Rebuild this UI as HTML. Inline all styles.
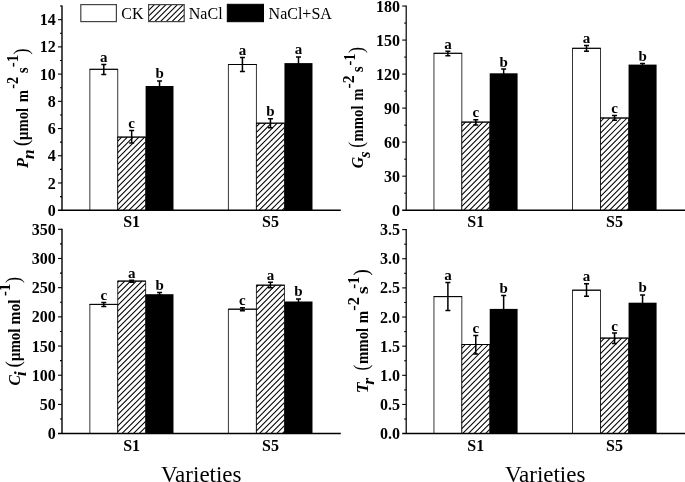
<!DOCTYPE html>
<html><head><meta charset="utf-8"><style>
html,body{margin:0;padding:0;background:#fff;}
body{width:685px;height:482px;position:relative;overflow:hidden;font-family:"Liberation Serif",serif;}
</style></head><body>
<svg width="685" height="482" viewBox="0 0 685 482" style="position:absolute;left:0;top:0;will-change:transform">
<defs>
</defs>
<rect x="89.85" y="69.30" width="27.88" height="140.90" fill="#fff"/>
<path d="M89.85 210.20V69.30H117.73V210.20" stroke="#000" stroke-width="0.8" fill="none"/>
<path d="M89.45 69.30H118.13" stroke="#000" stroke-width="1" fill="none"/>
<path d="M103.79 64.60V74.40M101.29 64.60H106.29M101.29 74.40H106.29" stroke="#000" stroke-width="1.5" fill="none"/>
<text x="103.79" y="62.00" font-family="Liberation Serif" font-weight="bold" font-size="15" text-anchor="middle">a</text>
<rect x="117.73" y="137.10" width="27.88" height="73.10" fill="#fff"/>
<path d="M117.73 141.02L121.65 137.10M117.73 146.77L127.40 137.10M117.73 152.52L133.15 137.10M117.73 158.27L138.90 137.10M117.73 164.02L144.65 137.10M117.73 169.77L145.61 141.89M117.73 175.52L145.61 147.64M117.73 181.27L145.61 153.39M117.73 187.02L145.61 159.14M117.73 192.77L145.61 164.89M117.73 198.52L145.61 170.64M117.73 204.27L145.61 176.39M117.73 210.02L145.61 182.14M123.30 210.20L145.61 187.89M129.05 210.20L145.61 193.64M134.80 210.20L145.61 199.39M140.55 210.20L145.61 205.14" stroke="#000" stroke-width="1.05" fill="none"/>
<path d="M117.73 210.20V137.10H145.61V210.20" stroke="#000" stroke-width="0.8" fill="none"/>
<path d="M117.33 137.10H146.01" stroke="#000" stroke-width="1" fill="none"/>
<path d="M131.67 130.60V142.90M129.17 130.60H134.17M129.17 142.90H134.17" stroke="#000" stroke-width="1.5" fill="none"/>
<text x="131.67" y="128.00" font-family="Liberation Serif" font-weight="bold" font-size="15" text-anchor="middle">c</text>
<rect x="145.61" y="86.00" width="27.88" height="124.20" fill="#000"/>
<path d="M159.55 80.90V91.00M157.05 80.90H162.05M157.05 91.00H162.05" stroke="#000" stroke-width="1.5" fill="none"/>
<text x="159.55" y="78.30" font-family="Liberation Serif" font-weight="bold" font-size="15" text-anchor="middle">b</text>
<text x="131.67" y="227.20" font-family="Liberation Serif" font-weight="bold" font-size="16" text-anchor="middle">S1</text>
<rect x="228.40" y="64.50" width="28.03" height="145.70" fill="#fff"/>
<path d="M228.40 210.20V64.50H256.43V210.20" stroke="#000" stroke-width="0.8" fill="none"/>
<path d="M228.00 64.50H256.83" stroke="#000" stroke-width="1" fill="none"/>
<path d="M242.42 57.50V71.50M239.92 57.50H244.92M239.92 71.50H244.92" stroke="#000" stroke-width="1.5" fill="none"/>
<text x="242.42" y="54.90" font-family="Liberation Serif" font-weight="bold" font-size="15" text-anchor="middle">a</text>
<rect x="256.43" y="123.20" width="28.03" height="87.00" fill="#fff"/>
<path d="M256.43 126.74L259.97 123.20M256.43 132.49L265.72 123.20M256.43 138.24L271.47 123.20M256.43 143.99L277.22 123.20M256.43 149.74L282.97 123.20M256.43 155.49L284.46 127.46M256.43 161.24L284.46 133.21M256.43 166.99L284.46 138.96M256.43 172.74L284.46 144.71M256.43 178.49L284.46 150.46M256.43 184.24L284.46 156.21M256.43 189.99L284.46 161.96M256.43 195.74L284.46 167.71M256.43 201.49L284.46 173.46M256.43 207.24L284.46 179.21M259.22 210.20L284.46 184.96M264.97 210.20L284.46 190.71M270.72 210.20L284.46 196.46M276.47 210.20L284.46 202.21M282.22 210.20L284.46 207.96" stroke="#000" stroke-width="1.05" fill="none"/>
<path d="M256.43 210.20V123.20H284.46V210.20" stroke="#000" stroke-width="0.8" fill="none"/>
<path d="M256.03 123.20H284.86" stroke="#000" stroke-width="1" fill="none"/>
<path d="M270.45 118.70V127.70M267.95 118.70H272.95M267.95 127.70H272.95" stroke="#000" stroke-width="1.5" fill="none"/>
<text x="270.45" y="116.10" font-family="Liberation Serif" font-weight="bold" font-size="15" text-anchor="middle">b</text>
<rect x="284.46" y="63.10" width="28.03" height="147.10" fill="#000"/>
<path d="M298.48 56.90V69.40M295.98 56.90H300.98M295.98 69.40H300.98" stroke="#000" stroke-width="1.5" fill="none"/>
<text x="298.48" y="54.30" font-family="Liberation Serif" font-weight="bold" font-size="15" text-anchor="middle">a</text>
<text x="270.44" y="227.20" font-family="Liberation Serif" font-weight="bold" font-size="16" text-anchor="middle">S5</text>
<path d="M62.00 5.55V210.20" stroke="#000" stroke-width="1.4" fill="none"/>
<path d="M58.00 210.20H340.80" stroke="#000" stroke-width="1.5" fill="none"/>
<text x="55.70" y="215.80" font-family="Liberation Serif" font-weight="bold" font-size="16" text-anchor="end">0</text>
<path d="M60.00 196.59H62.00" stroke="#000" stroke-width="1.1" fill="none"/>
<path d="M58.00 182.98H62.00" stroke="#000" stroke-width="1.1" fill="none"/>
<text x="55.70" y="188.58" font-family="Liberation Serif" font-weight="bold" font-size="16" text-anchor="end">2</text>
<path d="M60.00 169.37H62.00" stroke="#000" stroke-width="1.1" fill="none"/>
<path d="M58.00 155.76H62.00" stroke="#000" stroke-width="1.1" fill="none"/>
<text x="55.70" y="161.36" font-family="Liberation Serif" font-weight="bold" font-size="16" text-anchor="end">4</text>
<path d="M60.00 142.15H62.00" stroke="#000" stroke-width="1.1" fill="none"/>
<path d="M58.00 128.54H62.00" stroke="#000" stroke-width="1.1" fill="none"/>
<text x="55.70" y="134.14" font-family="Liberation Serif" font-weight="bold" font-size="16" text-anchor="end">6</text>
<path d="M60.00 114.93H62.00" stroke="#000" stroke-width="1.1" fill="none"/>
<path d="M58.00 101.32H62.00" stroke="#000" stroke-width="1.1" fill="none"/>
<text x="55.70" y="106.92" font-family="Liberation Serif" font-weight="bold" font-size="16" text-anchor="end">8</text>
<path d="M60.00 87.71H62.00" stroke="#000" stroke-width="1.1" fill="none"/>
<path d="M58.00 74.10H62.00" stroke="#000" stroke-width="1.1" fill="none"/>
<text x="55.70" y="79.70" font-family="Liberation Serif" font-weight="bold" font-size="16" text-anchor="end">10</text>
<path d="M60.00 60.49H62.00" stroke="#000" stroke-width="1.1" fill="none"/>
<path d="M58.00 46.88H62.00" stroke="#000" stroke-width="1.1" fill="none"/>
<text x="55.70" y="52.48" font-family="Liberation Serif" font-weight="bold" font-size="16" text-anchor="end">12</text>
<path d="M60.00 33.27H62.00" stroke="#000" stroke-width="1.1" fill="none"/>
<path d="M58.00 19.66H62.00" stroke="#000" stroke-width="1.1" fill="none"/>
<text x="55.70" y="25.26" font-family="Liberation Serif" font-weight="bold" font-size="16" text-anchor="end">14</text>
<path d="M60.00 6.05H62.00" stroke="#000" stroke-width="1.1" fill="none"/>
<rect x="433.95" y="53.30" width="27.88" height="156.90" fill="#fff"/>
<path d="M433.95 210.20V53.30H461.83V210.20" stroke="#000" stroke-width="0.8" fill="none"/>
<path d="M433.55 53.30H462.23" stroke="#000" stroke-width="1" fill="none"/>
<path d="M447.89 51.35V55.70M445.39 51.35H450.39M445.39 55.70H450.39" stroke="#000" stroke-width="1.5" fill="none"/>
<text x="447.89" y="48.75" font-family="Liberation Serif" font-weight="bold" font-size="15" text-anchor="middle">a</text>
<rect x="461.83" y="122.10" width="27.88" height="88.10" fill="#fff"/>
<path d="M461.83 125.87L465.60 122.10M461.83 131.62L471.35 122.10M461.83 137.37L477.10 122.10M461.83 143.12L482.85 122.10M461.83 148.87L488.60 122.10M461.83 154.62L489.71 126.74M461.83 160.37L489.71 132.49M461.83 166.12L489.71 138.24M461.83 171.87L489.71 143.99M461.83 177.62L489.71 149.74M461.83 183.37L489.71 155.49M461.83 189.12L489.71 161.24M461.83 194.87L489.71 166.99M461.83 200.62L489.71 172.74M461.83 206.37L489.71 178.49M463.75 210.20L489.71 184.24M469.50 210.20L489.71 189.99M475.25 210.20L489.71 195.74M481.00 210.20L489.71 201.49M486.75 210.20L489.71 207.24" stroke="#000" stroke-width="1.05" fill="none"/>
<path d="M461.83 210.20V122.10H489.71V210.20" stroke="#000" stroke-width="0.8" fill="none"/>
<path d="M461.43 122.10H490.11" stroke="#000" stroke-width="1" fill="none"/>
<path d="M475.77 119.80V124.90M473.27 119.80H478.27M473.27 124.90H478.27" stroke="#000" stroke-width="1.5" fill="none"/>
<text x="475.77" y="117.20" font-family="Liberation Serif" font-weight="bold" font-size="15" text-anchor="middle">c</text>
<rect x="489.71" y="73.30" width="27.88" height="136.90" fill="#000"/>
<path d="M503.65 69.10V77.60M501.15 69.10H506.15M501.15 77.60H506.15" stroke="#000" stroke-width="1.5" fill="none"/>
<text x="503.65" y="66.50" font-family="Liberation Serif" font-weight="bold" font-size="15" text-anchor="middle">b</text>
<text x="475.77" y="227.20" font-family="Liberation Serif" font-weight="bold" font-size="16" text-anchor="middle">S1</text>
<rect x="572.50" y="48.30" width="28.03" height="161.90" fill="#fff"/>
<path d="M572.50 210.20V48.30H600.53V210.20" stroke="#000" stroke-width="0.8" fill="none"/>
<path d="M572.10 48.30H600.93" stroke="#000" stroke-width="1" fill="none"/>
<path d="M586.51 45.50V51.30M584.01 45.50H589.01M584.01 51.30H589.01" stroke="#000" stroke-width="1.5" fill="none"/>
<text x="586.51" y="42.90" font-family="Liberation Serif" font-weight="bold" font-size="15" text-anchor="middle">a</text>
<rect x="600.53" y="118.00" width="28.03" height="92.20" fill="#fff"/>
<path d="M600.53 121.52L604.05 118.00M600.53 127.27L609.80 118.00M600.53 133.02L615.55 118.00M600.53 138.77L621.30 118.00M600.53 144.52L627.05 118.00M600.53 150.27L628.56 122.24M600.53 156.02L628.56 127.99M600.53 161.77L628.56 133.74M600.53 167.52L628.56 139.49M600.53 173.27L628.56 145.24M600.53 179.02L628.56 150.99M600.53 184.77L628.56 156.74M600.53 190.52L628.56 162.49M600.53 196.27L628.56 168.24M600.53 202.02L628.56 173.99M600.53 207.77L628.56 179.74M603.85 210.20L628.56 185.49M609.60 210.20L628.56 191.24M615.35 210.20L628.56 196.99M621.10 210.20L628.56 202.74M626.85 210.20L628.56 208.49" stroke="#000" stroke-width="1.05" fill="none"/>
<path d="M600.53 210.20V118.00H628.56V210.20" stroke="#000" stroke-width="0.8" fill="none"/>
<path d="M600.13 118.00H628.96" stroke="#000" stroke-width="1" fill="none"/>
<path d="M614.54 115.50V120.20M612.04 115.50H617.04M612.04 120.20H617.04" stroke="#000" stroke-width="1.5" fill="none"/>
<text x="614.54" y="112.90" font-family="Liberation Serif" font-weight="bold" font-size="15" text-anchor="middle">c</text>
<rect x="628.56" y="64.60" width="28.03" height="145.60" fill="#000"/>
<path d="M642.57 63.60V66.60M640.07 63.60H645.07M640.07 66.60H645.07" stroke="#000" stroke-width="1.5" fill="none"/>
<text x="642.57" y="61.00" font-family="Liberation Serif" font-weight="bold" font-size="15" text-anchor="middle">b</text>
<text x="614.54" y="227.20" font-family="Liberation Serif" font-weight="bold" font-size="16" text-anchor="middle">S5</text>
<path d="M406.20 5.55V210.20" stroke="#000" stroke-width="1.2" fill="none"/>
<path d="M402.20 210.20H685.50" stroke="#000" stroke-width="1.5" fill="none"/>
<text x="399.90" y="215.80" font-family="Liberation Serif" font-weight="bold" font-size="16" text-anchor="end">0</text>
<path d="M404.20 193.19H406.20" stroke="#000" stroke-width="1.1" fill="none"/>
<path d="M402.20 176.17H406.20" stroke="#000" stroke-width="1.1" fill="none"/>
<text x="399.90" y="181.77" font-family="Liberation Serif" font-weight="bold" font-size="16" text-anchor="end">30</text>
<path d="M404.20 159.16H406.20" stroke="#000" stroke-width="1.1" fill="none"/>
<path d="M402.20 142.15H406.20" stroke="#000" stroke-width="1.1" fill="none"/>
<text x="399.90" y="147.75" font-family="Liberation Serif" font-weight="bold" font-size="16" text-anchor="end">60</text>
<path d="M404.20 125.14H406.20" stroke="#000" stroke-width="1.1" fill="none"/>
<path d="M402.20 108.12H406.20" stroke="#000" stroke-width="1.1" fill="none"/>
<text x="399.90" y="113.72" font-family="Liberation Serif" font-weight="bold" font-size="16" text-anchor="end">90</text>
<path d="M404.20 91.11H406.20" stroke="#000" stroke-width="1.1" fill="none"/>
<path d="M402.20 74.10H406.20" stroke="#000" stroke-width="1.1" fill="none"/>
<text x="399.90" y="79.70" font-family="Liberation Serif" font-weight="bold" font-size="16" text-anchor="end">120</text>
<path d="M404.20 57.09H406.20" stroke="#000" stroke-width="1.1" fill="none"/>
<path d="M402.20 40.08H406.20" stroke="#000" stroke-width="1.1" fill="none"/>
<text x="399.90" y="45.68" font-family="Liberation Serif" font-weight="bold" font-size="16" text-anchor="end">150</text>
<path d="M404.20 23.06H406.20" stroke="#000" stroke-width="1.1" fill="none"/>
<path d="M402.20 6.05H406.20" stroke="#000" stroke-width="1.1" fill="none"/>
<text x="399.90" y="11.65" font-family="Liberation Serif" font-weight="bold" font-size="16" text-anchor="end">180</text>
<rect x="89.85" y="304.40" width="27.88" height="129.20" fill="#fff"/>
<path d="M89.85 433.60V304.40H117.73V433.60" stroke="#000" stroke-width="0.8" fill="none"/>
<path d="M89.45 304.40H118.13" stroke="#000" stroke-width="1" fill="none"/>
<path d="M103.79 302.40V306.60M101.29 302.40H106.29M101.29 306.60H106.29" stroke="#000" stroke-width="1.5" fill="none"/>
<text x="103.79" y="299.80" font-family="Liberation Serif" font-weight="bold" font-size="15" text-anchor="middle">c</text>
<rect x="117.73" y="281.10" width="27.88" height="152.50" fill="#fff"/>
<path d="M117.73 282.44L119.07 281.10M117.73 288.19L124.82 281.10M117.73 293.94L130.57 281.10M117.73 299.69L136.32 281.10M117.73 305.44L142.07 281.10M117.73 311.19L145.61 283.31M117.73 316.94L145.61 289.06M117.73 322.69L145.61 294.81M117.73 328.44L145.61 300.56M117.73 334.19L145.61 306.31M117.73 339.94L145.61 312.06M117.73 345.69L145.61 317.81M117.73 351.44L145.61 323.56M117.73 357.19L145.61 329.31M117.73 362.94L145.61 335.06M117.73 368.69L145.61 340.81M117.73 374.44L145.61 346.56M117.73 380.19L145.61 352.31M117.73 385.94L145.61 358.06M117.73 391.69L145.61 363.81M117.73 397.44L145.61 369.56M117.73 403.19L145.61 375.31M117.73 408.94L145.61 381.06M117.73 414.69L145.61 386.81M117.73 420.44L145.61 392.56M117.73 426.19L145.61 398.31M117.73 431.94L145.61 404.06M121.82 433.60L145.61 409.81M127.57 433.60L145.61 415.56M133.32 433.60L145.61 421.31M139.07 433.60L145.61 427.06M144.82 433.60L145.61 432.81" stroke="#000" stroke-width="1.05" fill="none"/>
<path d="M117.73 433.60V281.10H145.61V433.60" stroke="#000" stroke-width="0.8" fill="none"/>
<path d="M117.33 281.10H146.01" stroke="#000" stroke-width="1" fill="none"/>
<path d="M131.67 280.20V282.20M129.17 280.20H134.17M129.17 282.20H134.17" stroke="#000" stroke-width="1.5" fill="none"/>
<text x="131.67" y="277.60" font-family="Liberation Serif" font-weight="bold" font-size="15" text-anchor="middle">a</text>
<rect x="145.61" y="294.20" width="27.88" height="139.40" fill="#000"/>
<path d="M159.55 292.50V295.50M157.05 292.50H162.05M157.05 295.50H162.05" stroke="#000" stroke-width="1.5" fill="none"/>
<text x="159.55" y="289.90" font-family="Liberation Serif" font-weight="bold" font-size="15" text-anchor="middle">b</text>
<text x="131.67" y="450.60" font-family="Liberation Serif" font-weight="bold" font-size="16" text-anchor="middle">S1</text>
<rect x="228.40" y="309.20" width="28.03" height="124.40" fill="#fff"/>
<path d="M228.40 433.60V309.20H256.43V433.60" stroke="#000" stroke-width="0.8" fill="none"/>
<path d="M228.00 309.20H256.83" stroke="#000" stroke-width="1" fill="none"/>
<path d="M242.42 307.70V310.80M239.92 307.70H244.92M239.92 310.80H244.92" stroke="#000" stroke-width="1.5" fill="none"/>
<text x="242.42" y="305.10" font-family="Liberation Serif" font-weight="bold" font-size="15" text-anchor="middle">c</text>
<rect x="256.43" y="285.20" width="28.03" height="148.40" fill="#fff"/>
<path d="M256.43 287.02L258.25 285.20M256.43 292.77L264.00 285.20M256.43 298.52L269.75 285.20M256.43 304.27L275.50 285.20M256.43 310.02L281.25 285.20M256.43 315.77L284.46 287.74M256.43 321.52L284.46 293.49M256.43 327.27L284.46 299.24M256.43 333.02L284.46 304.99M256.43 338.77L284.46 310.74M256.43 344.52L284.46 316.49M256.43 350.27L284.46 322.24M256.43 356.02L284.46 327.99M256.43 361.77L284.46 333.74M256.43 367.52L284.46 339.49M256.43 373.27L284.46 345.24M256.43 379.02L284.46 350.99M256.43 384.77L284.46 356.74M256.43 390.52L284.46 362.49M256.43 396.27L284.46 368.24M256.43 402.02L284.46 373.99M256.43 407.77L284.46 379.74M256.43 413.52L284.46 385.49M256.43 419.27L284.46 391.24M256.43 425.02L284.46 396.99M256.43 430.77L284.46 402.74M259.35 433.60L284.46 408.49M265.10 433.60L284.46 414.24M270.85 433.60L284.46 419.99M276.60 433.60L284.46 425.74M282.35 433.60L284.46 431.49" stroke="#000" stroke-width="1.05" fill="none"/>
<path d="M256.43 433.60V285.20H284.46V433.60" stroke="#000" stroke-width="0.8" fill="none"/>
<path d="M256.03 285.20H284.86" stroke="#000" stroke-width="1" fill="none"/>
<path d="M270.45 282.30V287.70M267.95 282.30H272.95M267.95 287.70H272.95" stroke="#000" stroke-width="1.5" fill="none"/>
<text x="270.45" y="279.70" font-family="Liberation Serif" font-weight="bold" font-size="15" text-anchor="middle">a</text>
<rect x="284.46" y="301.50" width="28.03" height="132.10" fill="#000"/>
<path d="M298.48 299.00V304.00M295.98 299.00H300.98M295.98 304.00H300.98" stroke="#000" stroke-width="1.5" fill="none"/>
<text x="298.48" y="296.40" font-family="Liberation Serif" font-weight="bold" font-size="15" text-anchor="middle">b</text>
<text x="270.44" y="450.60" font-family="Liberation Serif" font-weight="bold" font-size="16" text-anchor="middle">S5</text>
<path d="M62.00 228.80V433.60" stroke="#000" stroke-width="1.4" fill="none"/>
<path d="M58.00 433.60H340.80" stroke="#000" stroke-width="1.5" fill="none"/>
<text x="55.70" y="439.20" font-family="Liberation Serif" font-weight="bold" font-size="16" text-anchor="end">0</text>
<path d="M60.00 419.01H62.00" stroke="#000" stroke-width="1.1" fill="none"/>
<path d="M58.00 404.41H62.00" stroke="#000" stroke-width="1.1" fill="none"/>
<text x="55.70" y="410.01" font-family="Liberation Serif" font-weight="bold" font-size="16" text-anchor="end">50</text>
<path d="M60.00 389.82H62.00" stroke="#000" stroke-width="1.1" fill="none"/>
<path d="M58.00 375.23H62.00" stroke="#000" stroke-width="1.1" fill="none"/>
<text x="55.70" y="380.83" font-family="Liberation Serif" font-weight="bold" font-size="16" text-anchor="end">100</text>
<path d="M60.00 360.64H62.00" stroke="#000" stroke-width="1.1" fill="none"/>
<path d="M58.00 346.04H62.00" stroke="#000" stroke-width="1.1" fill="none"/>
<text x="55.70" y="351.64" font-family="Liberation Serif" font-weight="bold" font-size="16" text-anchor="end">150</text>
<path d="M60.00 331.45H62.00" stroke="#000" stroke-width="1.1" fill="none"/>
<path d="M58.00 316.86H62.00" stroke="#000" stroke-width="1.1" fill="none"/>
<text x="55.70" y="322.46" font-family="Liberation Serif" font-weight="bold" font-size="16" text-anchor="end">200</text>
<path d="M60.00 302.26H62.00" stroke="#000" stroke-width="1.1" fill="none"/>
<path d="M58.00 287.67H62.00" stroke="#000" stroke-width="1.1" fill="none"/>
<text x="55.70" y="293.27" font-family="Liberation Serif" font-weight="bold" font-size="16" text-anchor="end">250</text>
<path d="M60.00 273.08H62.00" stroke="#000" stroke-width="1.1" fill="none"/>
<path d="M58.00 258.49H62.00" stroke="#000" stroke-width="1.1" fill="none"/>
<text x="55.70" y="264.09" font-family="Liberation Serif" font-weight="bold" font-size="16" text-anchor="end">300</text>
<path d="M60.00 243.89H62.00" stroke="#000" stroke-width="1.1" fill="none"/>
<path d="M58.00 229.30H62.00" stroke="#000" stroke-width="1.1" fill="none"/>
<text x="55.70" y="234.90" font-family="Liberation Serif" font-weight="bold" font-size="16" text-anchor="end">350</text>
<rect x="433.95" y="296.60" width="27.88" height="137.00" fill="#fff"/>
<path d="M433.95 433.60V296.60H461.83V433.60" stroke="#000" stroke-width="0.8" fill="none"/>
<path d="M433.55 296.60H462.23" stroke="#000" stroke-width="1" fill="none"/>
<path d="M447.89 282.60V310.60M445.39 282.60H450.39M445.39 310.60H450.39" stroke="#000" stroke-width="1.5" fill="none"/>
<text x="447.89" y="280.00" font-family="Liberation Serif" font-weight="bold" font-size="15" text-anchor="middle">a</text>
<rect x="461.83" y="344.50" width="27.88" height="89.10" fill="#fff"/>
<path d="M461.83 348.01L465.34 344.50M461.83 353.76L471.09 344.50M461.83 359.51L476.84 344.50M461.83 365.26L482.59 344.50M461.83 371.01L488.34 344.50M461.83 376.76L489.71 348.88M461.83 382.51L489.71 354.63M461.83 388.26L489.71 360.38M461.83 394.01L489.71 366.13M461.83 399.76L489.71 371.88M461.83 405.51L489.71 377.63M461.83 411.26L489.71 383.38M461.83 417.01L489.71 389.13M461.83 422.76L489.71 394.88M461.83 428.51L489.71 400.63M462.49 433.60L489.71 406.38M468.24 433.60L489.71 412.13M473.99 433.60L489.71 417.88M479.74 433.60L489.71 423.63M485.49 433.60L489.71 429.38" stroke="#000" stroke-width="1.05" fill="none"/>
<path d="M461.83 433.60V344.50H489.71V433.60" stroke="#000" stroke-width="0.8" fill="none"/>
<path d="M461.43 344.50H490.11" stroke="#000" stroke-width="1" fill="none"/>
<path d="M475.77 335.60V353.90M473.27 335.60H478.27M473.27 353.90H478.27" stroke="#000" stroke-width="1.5" fill="none"/>
<text x="475.77" y="333.00" font-family="Liberation Serif" font-weight="bold" font-size="15" text-anchor="middle">c</text>
<rect x="489.71" y="308.90" width="27.88" height="124.70" fill="#000"/>
<path d="M503.65 295.50V322.70M501.15 295.50H506.15M501.15 322.70H506.15" stroke="#000" stroke-width="1.5" fill="none"/>
<text x="503.65" y="292.90" font-family="Liberation Serif" font-weight="bold" font-size="15" text-anchor="middle">b</text>
<text x="475.77" y="450.60" font-family="Liberation Serif" font-weight="bold" font-size="16" text-anchor="middle">S1</text>
<rect x="572.50" y="290.20" width="28.03" height="143.40" fill="#fff"/>
<path d="M572.50 433.60V290.20H600.53V433.60" stroke="#000" stroke-width="0.8" fill="none"/>
<path d="M572.10 290.20H600.93" stroke="#000" stroke-width="1" fill="none"/>
<path d="M586.51 283.80V296.20M584.01 283.80H589.01M584.01 296.20H589.01" stroke="#000" stroke-width="1.5" fill="none"/>
<text x="586.51" y="281.20" font-family="Liberation Serif" font-weight="bold" font-size="15" text-anchor="middle">a</text>
<rect x="600.53" y="338.10" width="28.03" height="95.50" fill="#fff"/>
<path d="M600.53 342.01L604.44 338.10M600.53 347.76L610.19 338.10M600.53 353.51L615.94 338.10M600.53 359.26L621.69 338.10M600.53 365.01L627.44 338.10M600.53 370.76L628.56 342.73M600.53 376.51L628.56 348.48M600.53 382.26L628.56 354.23M600.53 388.01L628.56 359.98M600.53 393.76L628.56 365.73M600.53 399.51L628.56 371.48M600.53 405.26L628.56 377.23M600.53 411.01L628.56 382.98M600.53 416.76L628.56 388.73M600.53 422.51L628.56 394.48M600.53 428.26L628.56 400.23M600.94 433.60L628.56 405.98M606.69 433.60L628.56 411.73M612.44 433.60L628.56 417.48M618.19 433.60L628.56 423.23M623.94 433.60L628.56 428.98" stroke="#000" stroke-width="1.05" fill="none"/>
<path d="M600.53 433.60V338.10H628.56V433.60" stroke="#000" stroke-width="0.8" fill="none"/>
<path d="M600.13 338.10H628.96" stroke="#000" stroke-width="1" fill="none"/>
<path d="M614.54 333.10V343.40M612.04 333.10H617.04M612.04 343.40H617.04" stroke="#000" stroke-width="1.5" fill="none"/>
<text x="614.54" y="330.50" font-family="Liberation Serif" font-weight="bold" font-size="15" text-anchor="middle">c</text>
<rect x="628.56" y="302.70" width="28.03" height="130.90" fill="#000"/>
<path d="M642.57 295.00V309.70M640.07 295.00H645.07M640.07 309.70H645.07" stroke="#000" stroke-width="1.5" fill="none"/>
<text x="642.57" y="292.40" font-family="Liberation Serif" font-weight="bold" font-size="15" text-anchor="middle">b</text>
<text x="614.54" y="450.60" font-family="Liberation Serif" font-weight="bold" font-size="16" text-anchor="middle">S5</text>
<path d="M406.20 229.10V433.60" stroke="#000" stroke-width="1.25" fill="none"/>
<path d="M402.20 433.60H685.50" stroke="#000" stroke-width="1.5" fill="none"/>
<text x="399.90" y="439.20" font-family="Liberation Serif" font-weight="bold" font-size="16" text-anchor="end">0.0</text>
<path d="M404.20 419.03H406.20" stroke="#000" stroke-width="1.1" fill="none"/>
<path d="M402.20 404.46H406.20" stroke="#000" stroke-width="1.1" fill="none"/>
<text x="399.90" y="410.06" font-family="Liberation Serif" font-weight="bold" font-size="16" text-anchor="end">0.5</text>
<path d="M404.20 389.89H406.20" stroke="#000" stroke-width="1.1" fill="none"/>
<path d="M402.20 375.31H406.20" stroke="#000" stroke-width="1.1" fill="none"/>
<text x="399.90" y="380.91" font-family="Liberation Serif" font-weight="bold" font-size="16" text-anchor="end">1.0</text>
<path d="M404.20 360.74H406.20" stroke="#000" stroke-width="1.1" fill="none"/>
<path d="M402.20 346.17H406.20" stroke="#000" stroke-width="1.1" fill="none"/>
<text x="399.90" y="351.77" font-family="Liberation Serif" font-weight="bold" font-size="16" text-anchor="end">1.5</text>
<path d="M404.20 331.60H406.20" stroke="#000" stroke-width="1.1" fill="none"/>
<path d="M402.20 317.03H406.20" stroke="#000" stroke-width="1.1" fill="none"/>
<text x="399.90" y="322.63" font-family="Liberation Serif" font-weight="bold" font-size="16" text-anchor="end">2.0</text>
<path d="M404.20 302.46H406.20" stroke="#000" stroke-width="1.1" fill="none"/>
<path d="M402.20 287.89H406.20" stroke="#000" stroke-width="1.1" fill="none"/>
<text x="399.90" y="293.49" font-family="Liberation Serif" font-weight="bold" font-size="16" text-anchor="end">2.5</text>
<path d="M404.20 273.31H406.20" stroke="#000" stroke-width="1.1" fill="none"/>
<path d="M402.20 258.74H406.20" stroke="#000" stroke-width="1.1" fill="none"/>
<text x="399.90" y="264.34" font-family="Liberation Serif" font-weight="bold" font-size="16" text-anchor="end">3.0</text>
<path d="M404.20 244.17H406.20" stroke="#000" stroke-width="1.1" fill="none"/>
<path d="M402.20 229.60H406.20" stroke="#000" stroke-width="1.1" fill="none"/>
<text x="399.90" y="235.20" font-family="Liberation Serif" font-weight="bold" font-size="16" text-anchor="end">3.5</text>
<rect x="80.8" y="4.6" width="35.6" height="17" fill="#fff" stroke="#444" stroke-width="1.2"/>
<path d="M148.60 4.70L148.70 4.60M148.60 10.45L154.45 4.60M148.60 16.20L160.20 4.60M148.95 21.60L165.95 4.60M154.70 21.60L171.70 4.60M160.45 21.60L177.45 4.60M166.20 21.60L183.20 4.60M171.95 21.60L184.20 9.35M177.70 21.60L184.20 15.10M183.45 21.60L184.20 20.85" stroke="#000" stroke-width="1.05" fill="none"/>
<rect x="148.6" y="4.6" width="35.6" height="17" fill="none" stroke="#444" stroke-width="1.2"/>
<rect x="227.3" y="4.3" width="36.2" height="17.4" fill="#000" stroke="#000" stroke-width="1"/>
<text x="121.3" y="18.6" font-family="Liberation Serif" font-size="16">CK</text>
<text x="188.8" y="18.6" font-family="Liberation Serif" font-size="16">NaCl</text>
<text x="268.6" y="18.6" font-family="Liberation Serif" font-size="16">NaCl+SA</text>
<text x="201.3" y="481.6" font-family="Liberation Serif" font-size="23" text-anchor="middle">Varieties</text>
<text x="545.2" y="481.6" font-family="Liberation Serif" font-size="23" text-anchor="middle">Varieties</text>
<text transform="translate(27.70,167.99) rotate(-90) scale(1.0220,1)" font-family="Liberation Serif" font-weight="bold" font-style="italic" font-size="16">P</text>
<text transform="translate(33.80,159.05) rotate(-90) scale(1.0784,1)" font-family="Liberation Serif" font-weight="bold" font-style="italic" font-size="16">n</text>
<text transform="translate(27.70,146.29) rotate(-90) scale(1.0123,1)" font-family="Liberation Serif" font-weight="normal" font-size="20">(</text>
<text transform="translate(27.70,139.89) rotate(-90) scale(0.9195,1)" font-family="Liberation Serif" font-weight="bold" font-size="16">μmol</text>
<text transform="translate(27.70,102.29) rotate(-90) scale(0.9188,1)" font-family="Liberation Serif" font-weight="bold" font-size="16">m</text>
<text transform="translate(18.40,88.72) rotate(-90) scale(0.8876,1)" font-family="Liberation Serif" font-weight="bold" font-size="16">-2</text>
<text transform="translate(27.70,73.16) rotate(-90) scale(0.9530,1)" font-family="Liberation Serif" font-weight="bold" font-size="16">s</text>
<text transform="translate(18.40,67.25) rotate(-90) scale(0.9317,1)" font-family="Liberation Serif" font-weight="bold" font-size="16">-1</text>
<text transform="translate(27.70,54.39) rotate(-90) scale(0.9150,1)" font-family="Liberation Serif" font-weight="normal" font-size="20">)</text>
<text transform="translate(363.40,168.24) rotate(-90) scale(0.9882,1)" font-family="Liberation Serif" font-weight="bold" font-style="italic" font-size="16">G</text>
<text transform="translate(369.70,157.71) rotate(-90) scale(0.9965,1)" font-family="Liberation Serif" font-weight="bold" font-style="italic" font-size="16">s</text>
<text transform="translate(363.40,147.77) rotate(-90) scale(0.8760,1)" font-family="Liberation Serif" font-weight="normal" font-size="20">(</text>
<text transform="translate(363.40,141.50) rotate(-90) scale(0.9219,1)" font-family="Liberation Serif" font-weight="bold" font-size="16">mmol</text>
<text transform="translate(363.40,100.48) rotate(-90) scale(0.8871,1)" font-family="Liberation Serif" font-weight="bold" font-size="16">m</text>
<text transform="translate(354.40,88.58) rotate(-90) scale(0.9872,1)" font-family="Liberation Serif" font-weight="bold" font-size="16">-2</text>
<text transform="translate(363.40,72.25) rotate(-90) scale(0.9343,1)" font-family="Liberation Serif" font-weight="bold" font-size="16">s</text>
<text transform="translate(354.80,65.53) rotate(-90) scale(0.8981,1)" font-family="Liberation Serif" font-weight="bold" font-size="16">-1</text>
<text transform="translate(363.40,52.99) rotate(-90) scale(0.9150,1)" font-family="Liberation Serif" font-weight="normal" font-size="20">)</text>
<text transform="translate(19.80,385.43) rotate(-90) scale(0.9734,1)" font-family="Liberation Serif" font-weight="bold" font-style="italic" font-size="16">C</text>
<text transform="translate(26.10,376.16) rotate(-90) scale(1.1339,1)" font-family="Liberation Serif" font-weight="bold" font-style="italic" font-size="16">i</text>
<text transform="translate(19.80,367.46) rotate(-90) scale(0.9734,1)" font-family="Liberation Serif" font-weight="normal" font-size="20">(</text>
<text transform="translate(19.80,360.99) rotate(-90) scale(0.9311,1)" font-family="Liberation Serif" font-weight="bold" font-size="16">μmol</text>
<text transform="translate(19.80,324.62) rotate(-90) scale(0.9773,1)" font-family="Liberation Serif" font-weight="bold" font-size="16">mol</text>
<text transform="translate(9.90,295.94) rotate(-90) scale(0.9149,1)" font-family="Liberation Serif" font-weight="bold" font-size="16">-1</text>
<text transform="translate(19.80,282.99) rotate(-90) scale(0.9150,1)" font-family="Liberation Serif" font-weight="normal" font-size="20">)</text>
<text transform="translate(368.20,393.19) rotate(-90) scale(1.1059,1)" font-family="Liberation Serif" font-weight="bold" font-style="italic" font-size="16">T</text>
<text transform="translate(373.90,384.87) rotate(-90) scale(1.1138,1)" font-family="Liberation Serif" font-weight="bold" font-style="italic" font-size="16">r</text>
<text transform="translate(368.20,370.45) rotate(-90) scale(0.8566,1)" font-family="Liberation Serif" font-weight="normal" font-size="20">(</text>
<text transform="translate(368.20,364.00) rotate(-90) scale(0.9271,1)" font-family="Liberation Serif" font-weight="bold" font-size="16">mmol</text>
<text transform="translate(368.20,323.30) rotate(-90) scale(0.9267,1)" font-family="Liberation Serif" font-weight="bold" font-size="16">m</text>
<text transform="translate(358.90,310.70) rotate(-90) scale(1.0286,1)" font-family="Liberation Serif" font-weight="bold" font-size="16">-2</text>
<text transform="translate(368.20,294.00) rotate(-90) scale(1.2333,1)" font-family="Liberation Serif" font-weight="bold" font-size="16">s</text>
<text transform="translate(358.90,288.84) rotate(-90) scale(0.9149,1)" font-family="Liberation Serif" font-weight="bold" font-size="16">-1</text>
<text transform="translate(368.20,275.84) rotate(-90) scale(0.9929,1)" font-family="Liberation Serif" font-weight="normal" font-size="20">)</text>
</svg>
</body></html>
